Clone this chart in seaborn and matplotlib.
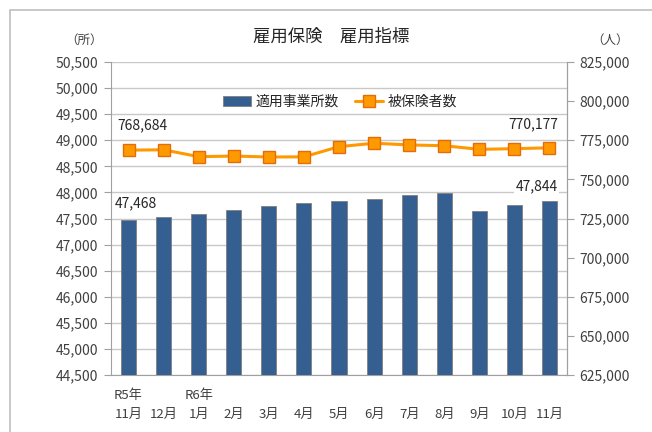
import numpy as np
import pandas as pd
import seaborn as sns
import matplotlib.pyplot as plt
from matplotlib.patches import Rectangle
from matplotlib.lines import Line2D

# --- data ---
months = ["R5年\n11月", "\n12月", "R6年\n1月", "\n2月", "\n3月", "\n4月", "\n5月",
          "\n6月", "\n7月", "\n8月", "\n9月", "\n10月", "\n11月"]
offices = [47468, 47523, 47580, 47669, 47739, 47791, 47835,
           47868, 47950, 47994, 47643, 47752, 47844]
insured = [768684, 768900, 764500, 764900, 764300, 764400, 770900,
           773100, 772000, 771500, 769200, 769600, 770177]
left_ticks = list(range(44500, 50501, 500))
right_ticks = list(range(625000, 825001, 25000))

bar_color = "#365F91"
line_color = "#FF9900"
edge_orange = "#E46C0A"
grid_color = "#C8C8C8"

sns.set_style("white")
plt.rcParams['font.family'] = ['Noto Sans CJK JP', 'DejaVu Sans']

df = pd.DataFrame({"month": months, "pos": np.arange(len(months)),
                   "offices": offices, "insured": insured})

fig = plt.figure(figsize=(6.52, 4.32), dpi=100)
fig.patches.append(Rectangle((10 / 652, -0.1), 1.2, 1.1 - 10 / 432, transform=fig.transFigure,
                             fill=False, edgecolor="#BFBFBF", linewidth=1.2))
ax = fig.add_axes([111 / 652, 1 - 375 / 432, 456 / 652, 313 / 432])

sns.barplot(data=df, x="month", y="offices", color=bar_color, width=0.43,
            edgecolor="#7F7F7F", linewidth=0.6, saturation=1, ax=ax, zorder=3)
ax.set_ylim(44500, 50500)
ax.set_xlim(-0.5, len(months) - 0.5)
ax.set_yticks(left_ticks)
ax.set_yticklabels([f"{v:,}" for v in left_ticks], fontsize=10, color="#404040")
ax.yaxis.grid(True, color=grid_color, linewidth=1)
ax.set_axisbelow(True)
ax.set_xlabel("")
ax.set_ylabel("")
ax.set_xticks(np.arange(len(months)))
ax.set_xticklabels(months, fontsize=9.5, color="#404040", linespacing=1.6, ha="center")
ax.tick_params(axis="x", length=0, pad=10)
ax.set_xticks(np.arange(len(months) + 1) - 0.5, minor=True)
ax.tick_params(axis="x", which="minor", length=5, direction="inout", color="#A0A0A0")
ax.tick_params(axis="y", length=5, direction="out", color="#A0A0A0", left=True, pad=4)
for side in ["left", "bottom", "right"]:
    ax.spines[side].set_color("#A0A0A0")
ax.spines["top"].set_visible(False)

ax2 = ax.twinx()
sns.lineplot(data=df, x="pos", y="insured", color=line_color, linewidth=2.2,
             marker="s", markersize=8, markerfacecolor=line_color,
             markeredgecolor=edge_orange, markeredgewidth=1, ax=ax2, zorder=4)
ax2.set_ylim(625000, 825000)
ax2.set_xlim(-0.5, len(months) - 0.5)
ax2.set_yticks(right_ticks)
ax2.set_yticklabels([f"{v:,}" for v in right_ticks], fontsize=10, color="#404040")
ax2.tick_params(axis="y", length=5, direction="out", color="#A0A0A0", right=True, pad=4)
ax2.set_ylabel("")
ax2.set_xlabel("")
ax2.spines["top"].set_visible(False)
ax2.spines["right"].set_color("#A0A0A0")
ax2.spines["left"].set_visible(False)
ax2.spines["bottom"].set_visible(False)

# data labels on first and last points
last = len(months) - 1
ax.annotate(f"{offices[0]:,}", (0, offices[0]), xytext=(-10, 12.5), textcoords="offset points",
            ha="left", va="center", fontsize=10)
ax.annotate(f"{offices[last]:,}", (last, offices[last]), xytext=(6, 10), textcoords="offset points",
            ha="right", va="center", fontsize=10,
            bbox=dict(boxstyle="square,pad=0.1", fc="white", ec="none"))
ax2.annotate(f"{insured[0]:,}", (0, insured[0]), xytext=(-8, 18), textcoords="offset points",
             ha="left", va="center", fontsize=10)
ax2.annotate(f"{insured[last]:,}", (last, insured[last]), xytext=(6, 17), textcoords="offset points",
             ha="right", va="center", fontsize=10)

# titles and unit labels
fig.text(331 / 652, 1 - 37 / 432, "雇用保険　雇用指標", ha="center", va="center", fontsize=12.5)
fig.text(84 / 652, 1 - 40 / 432, "（所）", ha="center", va="center", fontsize=9, color="#404040")
fig.text(610 / 652, 1 - 40 / 432, "（人）", ha="center", va="center", fontsize=9, color="#404040")

handles = [Rectangle((0, 0), 1, 1, facecolor=bar_color, edgecolor="#7F7F7F", linewidth=0.6),
           Line2D([0], [0], color=line_color, linewidth=2.2, marker="s", markersize=8,
                  markerfacecolor=line_color, markeredgecolor=edge_orange)]
fig.legend(handles, ["適用事業所数", "被保険者数"], loc="center",
           bbox_to_anchor=(340 / 652, 1 - 102 / 432), ncol=2, frameon=False,
           fontsize=10, handlelength=2.0, handletextpad=0.3, columnspacing=1.2)

fig.savefig("out.png", dpi=100)
